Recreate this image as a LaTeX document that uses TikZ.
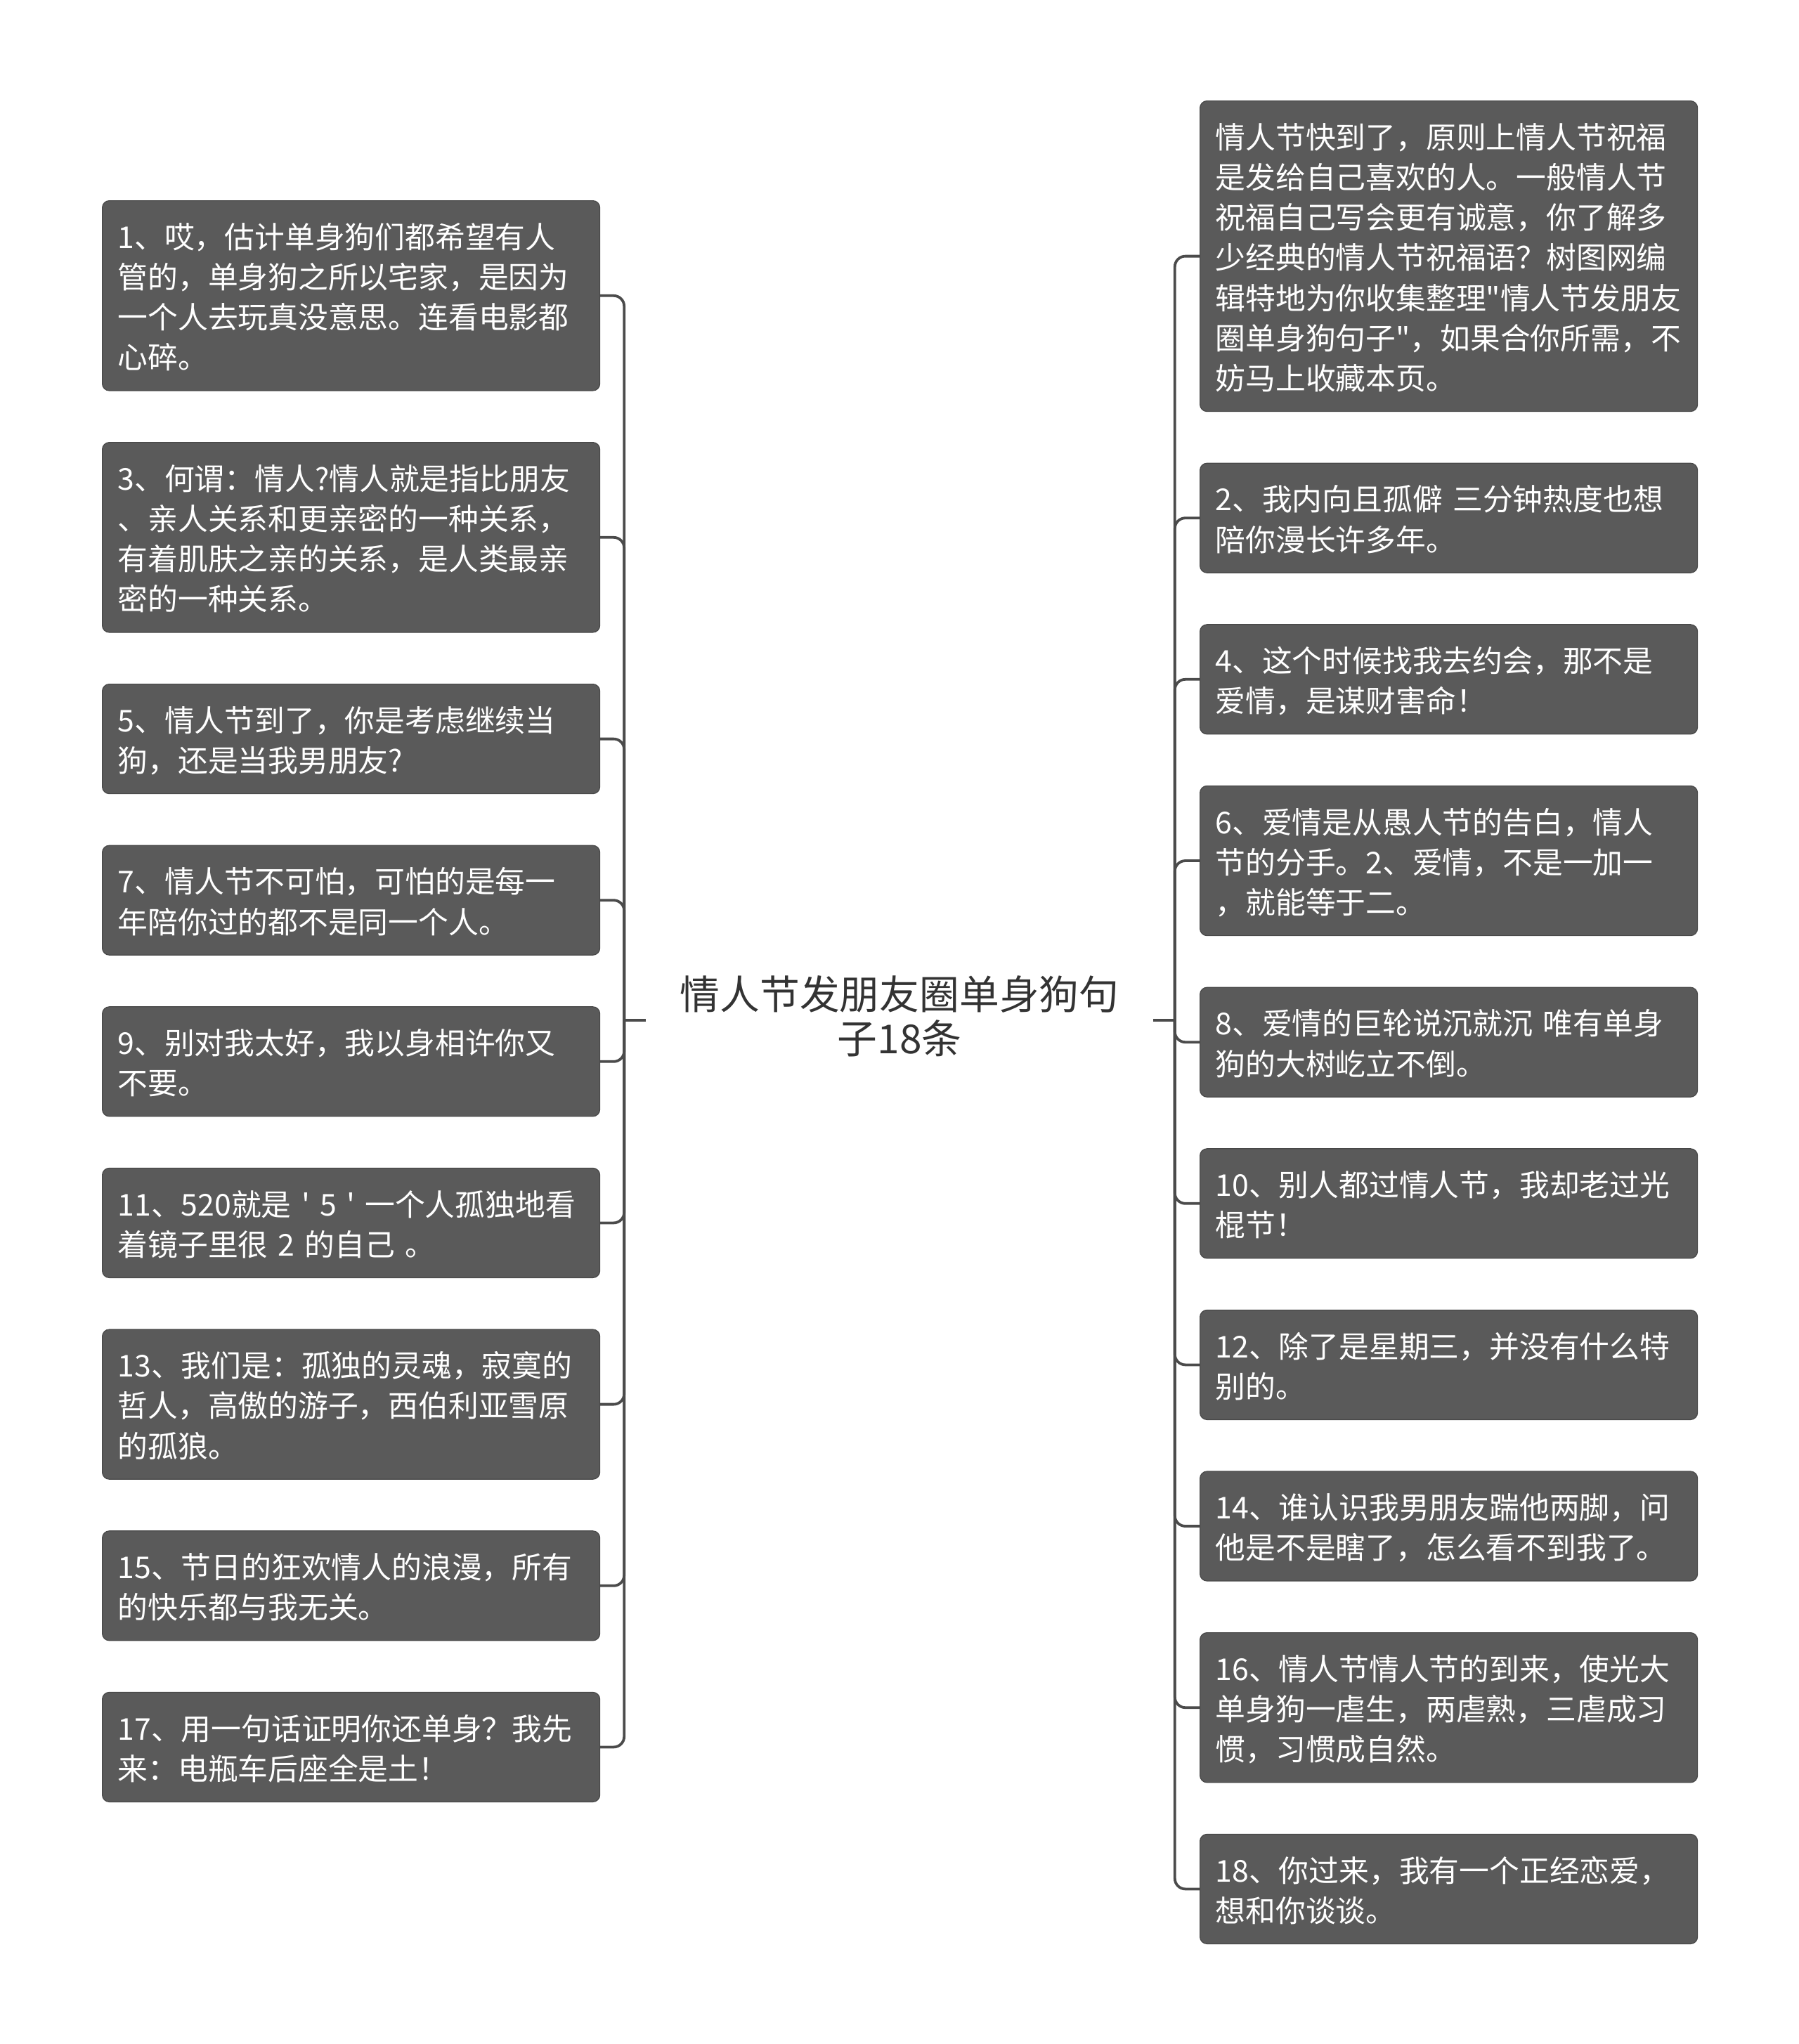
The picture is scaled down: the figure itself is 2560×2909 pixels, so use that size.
\documentclass[tikz,border=0pt]{standalone}
\usepackage{fontspec}
\setmainfont{Noto Sans CJK SC}[Ligatures=TeXOff]
\usetikzlibrary{positioning}

\definecolor{boxgray}{RGB}{90,90,90}
\definecolor{boxedge}{RGB}{72,72,72}
\definecolor{linegray}{RGB}{75,75,75}
\definecolor{rootgray}{RGB}{51,51,51}

\begin{document}
\begin{tikzpicture}[
  x=0.5pt, y=-0.5pt,
  topic/.style={rectangle, rounded corners=5pt, draw=boxedge, line width=0.6pt, fill=boxgray,
    text=white, align=left, text width=332pt, inner xsep=11pt, inner ysep=10pt,
    font=\fontsize{21.4pt}{28.6pt}\selectfont,
    execute at begin node={\rule{0pt}{23.8pt}}, execute at end node={\rule[-5.6pt]{0pt}{5.6pt}}},
  central/.style={text=rootgray, align=center, inner xsep=24pt, font=\fontsize{28.4pt}{31.5pt}\selectfont},
  branch/.style={draw=linegray, line width=1.9pt, rounded corners=7.5pt},
  node distance=36.2pt
]
  \useasboundingbox (0,0) rectangle (2560,2909);

  \node (root) [central] at (1280,1446) {情人节发朋友圈单身狗句\\子18条};

  % left column
  \node (n1) [topic, anchor=north west] at (145,285) {1、哎，估计单身狗们都希望有人\\管的，单身狗之所以宅家，是因为\\一个人去玩真没意思。连看电影都\\心碎。};
  \node (n3) [topic, below=of n1] {3、何谓：情人?情人就是指比朋友\\、亲人关系和更亲密的一种关系，\\有着肌肤之亲的关系，是人类最亲\\密的一种关系。};
  \node (n5) [topic, below=of n3] {5、情人节到了，你是考虑继续当\\狗，还是当我男朋友?};
  \node (n7) [topic, below=of n5] {7、情人节不可怕，可怕的是每一\\年陪你过的都不是同一个人。};
  \node (n9) [topic, below=of n7] {9、别对我太好，我以身相许你又\\不要。};
  \node (n11) [topic, below=of n9] {11、520就是 ' 5 ' 一个人孤独地看\\着镜子里很 2 的自己 。};
  \node (n13) [topic, below=of n11] {13、我们是：孤独的灵魂，寂寞的\\哲人，高傲的游子，西伯利亚雪原\\的孤狼。};
  \node (n15) [topic, below=of n13] {15、节日的狂欢情人的浪漫，所有\\的快乐都与我无关。};
  \node (n17) [topic, below=of n15] {17、用一句话证明你还单身？我先\\来：电瓶车后座全是土！};

  % right column
  \node (intro) [topic, anchor=north west] at (1707,143) {情人节快到了，原则上情人节祝福\\是发给自己喜欢的人。一般情人节\\祝福自己写会更有诚意，你了解多\\少经典的情人节祝福语？树图网编\\辑特地为你收集整理"情人节发朋友\\圈单身狗句子"，如果合你所需，不\\妨马上收藏本页。};
  \node (n2) [topic, below=of intro] {2、我内向且孤僻 三分钟热度也想\\陪你漫长许多年。};
  \node (n4) [topic, below=of n2] {4、这个时候找我去约会，那不是\\爱情，是谋财害命！};
  \node (n6) [topic, below=of n4] {6、爱情是从愚人节的告白，情人\\节的分手。2、爱情，不是一加一\\，就能等于二。};
  \node (n8) [topic, below=of n6] {8、爱情的巨轮说沉就沉 唯有单身\\狗的大树屹立不倒。};
  \node (n10) [topic, below=of n8] {10、别人都过情人节，我却老过光\\棍节！};
  \node (n12) [topic, below=of n10] {12、除了是星期三，并没有什么特\\别的。};
  \node (n14) [topic, below=of n12] {14、谁认识我男朋友踹他两脚，问\\他是不是瞎了，怎么看不到我了。};
  \node (n16) [topic, below=of n14] {16、情人节情人节的到来，使光大\\单身狗一虐生，两虐熟，三虐成习\\惯，习惯成自然。};
  \node (n18) [topic, below=of n16] {18、你过来，我有一个正经恋爱，\\想和你谈谈。};

  \coordinate (lhub) at ([xshift=-15.5pt,yshift=-3pt]root.west);
  \coordinate (rhub) at ([xshift=15.5pt,yshift=-3pt]root.east);

  \draw [branch] ([yshift=-3pt]root.west) -- (lhub);
  \draw [branch] ([yshift=-3pt]root.east) -- (rhub);
  \foreach \k in {n1,n3,n5,n7,n9,n11,n13,n15,n17}
    \draw [branch] (lhub) |- (\k.east);
  \foreach \k in {intro,n2,n4,n6,n8,n10,n12,n14,n16,n18}
    \draw [branch] (rhub) |- (\k.west);
\end{tikzpicture}
\end{document}
